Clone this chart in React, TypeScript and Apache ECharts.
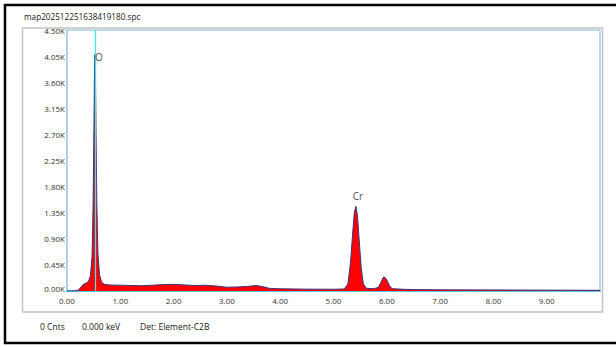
import React, { useEffect, useRef } from "react";
import * as echarts from "echarts";

const energyKeV = [
  0.0, 0.1, 0.2, 0.24, 0.28, 0.32, 0.36, 0.4, 0.44, 0.47, 0.49, 0.505, 0.515,
  0.525, 0.535, 0.545, 0.56, 0.58, 0.61, 0.65, 0.7, 0.8, 0.9, 1.0, 1.2, 1.4,
  1.6, 1.8, 2.0, 2.2, 2.4, 2.6, 2.8, 3.0, 3.2, 3.4, 3.55, 3.7, 3.8, 4.0, 4.5,
  5.0, 5.2, 5.27, 5.32, 5.36, 5.39, 5.42, 5.45, 5.48, 5.52, 5.56, 5.62, 5.75,
  5.84, 5.89, 5.93, 5.96, 6.0, 6.05, 6.1, 6.3, 6.5, 7.0, 8.0, 9.0, 10.0,
];
const counts = [
  0, 0, 10, 40, 90, 120, 140, 160, 260, 600, 1500, 2800, 3700,
  4080, 3600, 2700, 1500, 650, 280, 150, 115, 105, 100, 100, 95, 90,
  100, 110, 115, 105, 95, 100, 85, 65, 70, 80, 95, 70, 45, 38, 32,
  30, 35, 120, 500, 1000, 1350, 1460, 1300, 900, 400, 120, 45, 40,
  60, 150, 230, 240, 190, 90, 40, 30, 25, 20, 18, 15, 12,
];
const peakLabels = ["O", "Cr"];
const peakEnergy = [0.525, 5.42];
const peakLabelLevel = [4050, 1600];
const yTickValues = [0, 450, 900, 1350, 1800, 2250, 2700, 3150, 3600, 4050, 4500];
const xTickValues = [0, 1, 2, 3, 4, 5, 6, 7, 8, 9];
const cursorEnergy = 0.525;

const FONT = "'Open Sans', 'Liberation Sans', sans-serif";

export default function App() {
  const ref = useRef<HTMLDivElement>(null);
  useEffect(() => {
    if (!ref.current) return;
    const chart = echarts.init(ref.current, undefined, { renderer: "svg" });
    const spectrum = energyKeV.map((e, i) => [e, counts[i]]);
    chart.setOption({
      animation: false,
      backgroundColor: "#ffffff",
      textStyle: { fontFamily: FONT },
      grid: {
        left: 67,
        top: 30,
        right: 16,
        bottom: 56,
        show: true,
        borderColor: "#a9cfe0",
        borderWidth: 1.5,
        backgroundColor: "#ffffff",
      },
      xAxis: {
        type: "value",
        min: 0,
        max: 10,
        interval: 1,
        axisLine: { show: true, lineStyle: { color: "#55c8e0", width: 2 } },
        axisTick: { show: false },
        splitLine: { show: false },
        axisLabel: {
          color: "#333",
          fontSize: 8,
          fontFamily: FONT,
          margin: 5,
          formatter: (v: number) =>
            xTickValues.includes(v) ? v.toFixed(2) : "",
        },
      },
      yAxis: {
        type: "value",
        min: 0,
        max: 4500,
        interval: 450,
        axisLine: { show: true, lineStyle: { color: "#a9cfe0", width: 1.5 } },
        axisTick: { show: false },
        splitLine: { show: false },
        axisLabel: {
          color: "#333",
          fontSize: 8,
          fontFamily: FONT,
          margin: 2,
          formatter: (v: number) => {
            if (!yTickValues.includes(v)) return "";
            const s = (v / 1000).toFixed(2) + "K";
            return v === 0 ? "{b|" + s + "}" : s;
          },
          rich: {
            b: {
              fontSize: 8,
              fontFamily: FONT,
              color: "#333",
              padding: [0, 0, 5, 0],
            },
          },
        },
      },
      series: [
        {
          type: "line",
          z: 1,
          data: [],
          markLine: {
            silent: true,
            symbol: "none",
            label: { show: false },
            lineStyle: { color: "#3ee6ee", width: 1.3, type: "solid" },
            data: [{ xAxis: cursorEnergy }],
          },
        },
        {
          type: "line",
          z: 3,
          data: spectrum,
          showSymbol: false,
          symbol: "none",
          lineStyle: { color: "#3a3580", width: 1 },
          areaStyle: { color: "#ff0000", opacity: 1 },
        },
        {
          type: "scatter",
          z: 5,
          symbolSize: 0,
          data: peakLabels.map((n, i) => ({
            value: [peakEnergy[i], peakLabelLevel[i]],
            name: n,
          })),
          label: {
            show: true,
            formatter: (p: any) => p.name,
            color: "#222",
            fontSize: 10,
            fontFamily: FONT,
            position: "inside",
          },
          labelLayout: (params: any) =>
            params.dataIndex === 0
              ? { dx: 4, dy: 1 }
              : { dx: 2, dy: -2 },
        },
      ],
      graphic: [
        {
          type: "rect",
          z: -10,
          shape: { x: 5, y: 5, width: 640, height: 338 },
          style: { fill: "#ffffff", stroke: "#000000", lineWidth: 2.5 },
          silent: true,
        },
        {
          type: "rect",
          z: -9,
          shape: { x: 22.5, y: 28, width: 580, height: 284 },
          style: { fill: "#ffffff", stroke: "#c4c4c4", lineWidth: 1.5 },
          silent: true,
        },
        {
          type: "text",
          x: 24,
          y: 16,
          style: {
            text: "map202512251638419180.spc",
            fill: "#222",
            font: `8.2px ${FONT}`,
            textVerticalAlign: "middle",
          },
        },
        {
          type: "text",
          x: 40,
          y: 326,
          style: {
            text: "0 Cnts",
            fill: "#222",
            font: `8.5px ${FONT}`,
            textVerticalAlign: "middle",
          },
        },
        {
          type: "text",
          x: 82,
          y: 326,
          style: {
            text: "0.000 keV",
            fill: "#222",
            font: `8.5px ${FONT}`,
            textVerticalAlign: "middle",
          },
        },
        {
          type: "text",
          x: 140,
          y: 326,
          style: {
            text: "Det: Element-C2B",
            fill: "#222",
            font: `8.5px ${FONT}`,
            textVerticalAlign: "middle",
          },
        },
      ],
    });
    return () => chart.dispose();
  }, []);
  return (
    <div
      ref={ref}
      style={{ position: "fixed", left: 0, top: 0, width: 616, height: 347 }}
    />
  );
}
